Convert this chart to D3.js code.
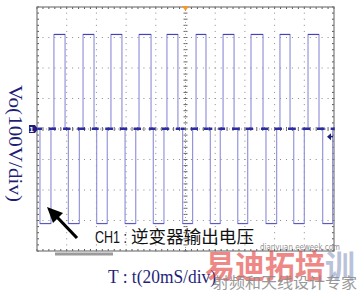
<!DOCTYPE html>
<html><head><meta charset="utf-8">
<script src="https://cdn.jsdelivr.net/npm/d3@7/dist/d3.min.js"></script>
<style>html,body{margin:0;padding:0;background:#fff;}svg{display:block;}</style>
</head><body>
<script>
// time in ms (20 ms/div), voltage in V (100 V/div)
const timeDomain = [0, 200];
const voltDomain = [-400, 400];
const posStart = [11.4, 31.0, 49.8, 68.7, 87.5, 107.1, 125.3, 144.1, 163.6, 182.5];
const posEnd   = [18.9, 38.4, 57.2, 76.8, 94.9, 113.8, 132.7, 152.2, 170.4, 189.9];
const negStart = [2.0, 21.1, 40.2, 59.3, 78.3, 98.1, 116.7, 135.2, 154.2, 172.9, 192.4];
const negEnd   = [9.4, 28.5, 47.3, 66.5, 85.5, 104.8, 123.4, 141.9, 161.4, 180.0, 199.1];
const highLevel = 310;
const lowLevel = -310;
const yLabel = "Vo(100V/div)";
const xLabel = "T : t(20mS/div)";
const chLabel = "CH1 :";
const chText = "逆变器输出电压";

const W = 362, H = 293;
const svg = d3.select("body").append("svg").attr("width", W).attr("height", H);
const x = d3.scaleLinear().domain(timeDomain).range([37, 334]);
const y = d3.scaleLinear().domain(voltDomain).range([251, 7]);

const gridCol = "#8a8a8a";
const xMajor = d3.range(timeDomain[0], timeDomain[1] + 0.1, 20);
const yMajor = d3.range(voltDomain[0], voltDomain[1] + 0.1, 100);
const xMinor = d3.range(timeDomain[0], timeDomain[1] + 0.1, 4);
const yMinor = d3.range(voltDomain[0], voltDomain[1] + 0.1, 20);

const g = svg.append("g");
xMajor.slice(1, -1).forEach(t => {
  if (t === 100) return;
  g.selectAll(null).data(yMinor).enter().append("rect")
    .attr("x", x(t) - 0.5).attr("y", d => y(d) - 0.5).attr("width", 1).attr("height", 1)
    .attr("fill", gridCol);
});
yMajor.slice(1, -1).forEach(v => {
  if (v === 0) return;
  g.selectAll(null).data(xMinor).enter().append("rect")
    .attr("x", d => x(d) - 0.5).attr("y", y(v) - 0.5).attr("width", 1).attr("height", 1)
    .attr("fill", gridCol);
});
g.selectAll(null).data(yMinor).enter().append("line")
  .attr("x1", x(100) - 2).attr("x2", x(100) + 2).attr("y1", d => y(d)).attr("y2", d => y(d))
  .attr("stroke", "#666").attr("stroke-width", 1);
g.selectAll(null).data(xMinor).enter().append("line")
  .attr("y1", y(0) - 2).attr("y2", y(0) + 2).attr("x1", d => x(d)).attr("x2", d => x(d))
  .attr("stroke", "#666").attr("stroke-width", 1);
g.append("line").attr("x1", x(100)).attr("x2", x(100)).attr("y1", y(400)).attr("y2", y(-400))
  .attr("stroke", "#9a9a9a").attr("stroke-dasharray", "1,2");
g.append("line").attr("x1", x(0)).attr("x2", x(200)).attr("y1", y(0)).attr("y2", y(0))
  .attr("stroke", "#9a9a9a").attr("stroke-dasharray", "1,2");
g.selectAll(null).data(xMinor).enter().append("line")
  .attr("x1", d => x(d)).attr("x2", d => x(d)).attr("y1", y(400)).attr("y2", y(400) + 2)
  .attr("stroke", "#555");
g.selectAll(null).data(xMinor).enter().append("line")
  .attr("x1", d => x(d)).attr("x2", d => x(d)).attr("y1", y(-400)).attr("y2", y(-400) - 2)
  .attr("stroke", "#555");
g.selectAll(null).data(yMinor).enter().append("line")
  .attr("x1", x(0)).attr("x2", x(0) + 2).attr("y1", d => y(d)).attr("y2", d => y(d))
  .attr("stroke", "#555");
g.selectAll(null).data(yMinor).enter().append("line")
  .attr("x1", x(200)).attr("x2", x(200) - 2).attr("y1", d => y(d)).attr("y2", d => y(d))
  .attr("stroke", "#555");
g.append("rect").attr("x", x(0)).attr("y", y(400)).attr("width", x(200) - x(0)).attr("height", y(-400) - y(400))
  .attr("fill", "none").attr("stroke", "#7a7a7a").attr("stroke-width", 1.2);

// trace
const pulses = [];
posStart.forEach((s, i) => pulses.push({s, e: posEnd[i], v: highLevel}));
negStart.forEach((s, i) => pulses.push({s, e: negEnd[i], v: lowLevel}));
pulses.sort((a, b) => a.s - b.s);
const pts = [[timeDomain[0], 0]];
pulses.forEach(p => { pts.push([p.s, 0], [p.s, p.v], [p.e, p.v], [p.e, 0]); });
pts.push([timeDomain[1], 0]);
const line = d3.line().x(d => x(d[0])).y(d => y(d[1]));
svg.append("path").attr("d", line(pts)).attr("fill", "none")
  .attr("stroke", "#8c8cd8").attr("stroke-width", 1.1);
svg.selectAll(null).data(pulses).enter().append("line")
  .attr("x1", d => x(d.s)).attr("x2", d => x(d.e)).attr("y1", d => y(d.v)).attr("y2", d => y(d.v))
  .attr("stroke", d => d.v > 0 ? "#4444b8" : "#5a5abf").attr("stroke-width", 1.2);
// dark marks on the zero level next to each edge
const edges = [];
pulses.forEach(p => { edges.push(p.s, p.e); });
svg.selectAll(null).data(edges).enter().append("rect")
  .attr("x", d => x(d) - 2).attr("y", y(0) - 1.5).attr("width", 4).attr("height", 2.5)
  .attr("fill", "#2c2ca2");

// markers
const y0 = y(0), xl = x(0);
svg.append("path").attr("d", `M${xl-8},${y0-4}H${xl-2}L${xl+1},${y0}L${xl-2},${y0+4}H${xl-8}Z`).attr("fill", "#1e1e82");
svg.append("text").attr("x", xl - 5.5).attr("y", y0 + 3.2).attr("text-anchor", "middle")
  .attr("font-family", "Liberation Sans").attr("font-weight", "bold").attr("font-size", 8).attr("fill", "#fff").text("1");
const xc = x(100), yt = y(400);
svg.append("path").attr("d", `M${xc-3.5},${yt-1}H${xc+3.5}L${xc},${yt+4}Z`).attr("fill", "#f09a30");
const xr = x(200), yr = y(-25);
svg.append("path").attr("d", `M${xr-7},${yr}L${xr-3},${yr-3.5}V${yr+3.5}Z`).attr("fill", "#1e1e82");
svg.append("line").attr("x1", xr - 4).attr("x2", xr - 1).attr("y1", yr).attr("y2", yr).attr("stroke", "#1e1e82").attr("stroke-width", 1.5);

svg.append("line").attr("x1", 55).attr("x2", 113).attr("y1", 254).attr("y2", 254)
  .attr("stroke", "#9a9a9a").attr("stroke-width", 3);

svg.append("line").attr("x1", 77).attr("y1", 238).attr("x2", 56).attr("y2", 216)
  .attr("stroke", "#000").attr("stroke-width", 3.2);
svg.append("path").attr("d", "M47,207L63,213L53,223Z").attr("fill", "#000");

svg.append("text").attr("transform", "translate(9,85) rotate(90)")
  .attr("font-family", "Liberation Serif").attr("font-size", 19.5).attr("fill", "#1f1f7a")
  .attr("textLength", 117).attr("lengthAdjust", "spacingAndGlyphs").text(yLabel);
svg.append("text").attr("x", 108).attr("y", 283)
  .attr("font-family", "Liberation Serif").attr("font-size", 19.5).attr("fill", "#1f1f7a")
  .attr("textLength", 108).attr("lengthAdjust", "spacingAndGlyphs").text(xLabel);
svg.append("text").attr("x", 95).attr("y", 243)
  .attr("font-family", "Liberation Sans").attr("font-size", 16).attr("fill", "#111")
  .attr("textLength", 32).attr("lengthAdjust", "spacingAndGlyphs").text(chLabel);
svg.append("text").attr("x", 131).attr("y", 243)
  .attr("font-family", "Noto Sans CJK SC").attr("font-size", 17.5).attr("fill", "#111")
  .attr("textLength", 123).attr("lengthAdjust", "spacingAndGlyphs").text(chText);

// watermark
svg.append("text").attr("x", 260).attr("y", 250)
  .attr("font-family", "DejaVu Sans").attr("font-size", 8).attr("fill", "#777").attr("opacity", 0.8)
  .attr("textLength", 80).attr("lengthAdjust", "spacingAndGlyphs").text("dianyuan.eeweek.com");
const wm = svg.append("text").attr("x", 205).attr("y", 278)
  .attr("font-family", "Noto Sans CJK SC").attr("font-weight", "bold").attr("font-size", 32)
  .attr("textLength", 150).attr("lengthAdjust", "spacingAndGlyphs").attr("opacity", 0.6);
wm.append("tspan").attr("fill", "#e23a36").text("易迪拓培");
wm.append("tspan").attr("fill", "#8c9ac0").text("训");
svg.append("text").attr("x", 213).attr("y", 288)
  .attr("font-family", "Noto Sans CJK SC").attr("font-size", 15).attr("fill", "#888").attr("opacity", 0.85)
  .attr("textLength", 144).attr("lengthAdjust", "spacingAndGlyphs").text("射频和天线设计专家");
</script>
</body></html>
